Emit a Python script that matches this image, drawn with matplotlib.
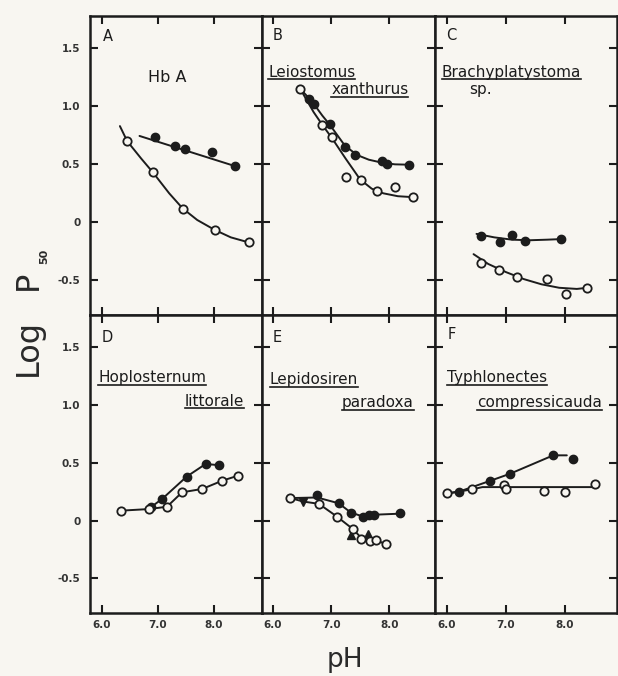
import matplotlib
matplotlib.use("Agg")
import matplotlib.pyplot as plt
from matplotlib.lines import Line2D

# ---------------- data (pH, log P50) ----------------
# Panel A  (Hb A)
a_open_ph = [6.45, 6.91, 7.44, 8.01, 8.63]
a_open_lp = [0.70, 0.435, 0.116, -0.067, -0.174]
a_fill_ph = [6.94, 7.30, 7.48, 7.97, 8.38]
a_fill_lp = [0.733, 0.658, 0.632, 0.609, 0.484]
a_open_curve_ph = [6.32, 6.45, 6.70, 6.91, 7.20, 7.44, 7.70, 8.01, 8.30, 8.63]
a_open_curve_lp = [0.83, 0.70, 0.55, 0.43, 0.25, 0.12, 0.02, -0.065, -0.13, -0.175]
a_fill_curve_ph = [6.67, 8.38]
a_fill_curve_lp = [0.745, 0.484]

# Panel B  (Leiostomus xanthurus)
b_open_ph = [6.47, 6.85, 7.01, 7.26, 7.51, 7.79, 8.10, 8.41]
b_open_lp = [1.15, 0.838, 0.734, 0.387, 0.361, 0.266, 0.306, 0.217]
b_fill_ph = [6.62, 6.70, 6.98, 7.24, 7.42, 7.87, 7.97, 8.34]
b_fill_lp = [1.06, 1.02, 0.844, 0.653, 0.578, 0.526, 0.503, 0.497]
b_open_curve_ph = [6.47, 6.70, 6.85, 7.01, 7.25, 7.50, 7.70, 7.90, 8.15, 8.41]
b_open_curve_lp = [1.15, 0.95, 0.84, 0.73, 0.55, 0.37, 0.29, 0.25, 0.225, 0.217]
b_fill_curve_ph = [6.47, 6.66, 6.85, 6.98, 7.24, 7.45, 7.65, 7.87, 8.10, 8.34]
b_fill_curve_lp = [1.15, 1.05, 0.92, 0.84, 0.66, 0.58, 0.54, 0.515, 0.50, 0.497]

# Panel C  (Brachyplatystoma sp.)
c_open_ph = [6.58, 6.88, 7.19, 7.70, 8.01, 8.38]
c_open_lp = [-0.348, -0.414, -0.470, -0.493, -0.617, -0.565]
c_fill_ph = [6.58, 6.89, 7.10, 7.32, 7.93]
c_fill_lp = [-0.116, -0.168, -0.110, -0.162, -0.145]
c_open_curve_ph = [6.45, 6.70, 7.00, 7.30, 7.60, 7.90, 8.20, 8.38]
c_open_curve_lp = [-0.275, -0.36, -0.43, -0.49, -0.535, -0.565, -0.575, -0.565]
c_fill_curve_ph = [6.50, 6.80, 7.10, 7.40, 7.70, 7.93]
c_fill_curve_lp = [-0.10, -0.13, -0.15, -0.155, -0.15, -0.145]

# Panel D  (Hoplosternum littorale)
d_open_ph = [6.34, 6.84, 7.16, 7.43, 7.79, 8.15, 8.43]
d_open_lp = [0.086, 0.10, 0.12, 0.245, 0.274, 0.346, 0.389]
d_fill_ph = [6.87, 7.08, 7.51, 7.85, 8.09]
d_fill_lp = [0.115, 0.19, 0.38, 0.49, 0.48]
d_open_curve_ph = d_open_ph
d_open_curve_lp = d_open_lp
d_fill_curve_ph = d_fill_ph
d_fill_curve_lp = d_fill_lp

# Panel E  (Lepidosiren paradoxa)
e_open_ph = [6.30, 6.79, 7.10, 7.38, 7.52, 7.67, 7.78, 7.94]
e_open_lp = [0.195, 0.145, 0.035, -0.075, -0.16, -0.18, -0.17, -0.20]
e_fill_ph = [6.76, 7.13, 7.34, 7.55, 7.66, 7.74, 8.19]
e_fill_lp = [0.22, 0.15, 0.065, 0.03, 0.05, 0.05, 0.065]
e_tri_down_ph = [6.52]
e_tri_down_lp = [0.157]
e_tri_up_ph = [7.35, 7.64]
e_tri_up_lp = [-0.125, -0.12]
e_open_curve_ph = [6.30, 6.52, 6.79, 7.10, 7.38, 7.52, 7.67, 7.78, 7.94]
e_open_curve_lp = [0.195, 0.165, 0.145, 0.035, -0.075, -0.15, -0.175, -0.175, -0.20]
e_fill_curve_ph = [6.30, 6.76, 7.13, 7.34, 7.55, 7.70, 8.19]
e_fill_curve_lp = [0.195, 0.20, 0.15, 0.07, 0.035, 0.05, 0.06]

# Panel F  (Typhlonectes compressicauda)
f_open_ph = [6.00, 6.42, 6.97, 7.00, 7.64, 8.00, 8.50]
f_open_lp = [0.235, 0.27, 0.31, 0.27, 0.26, 0.247, 0.32]
f_fill_ph = [6.20, 6.73, 7.07, 7.80, 8.13]
f_fill_lp = [0.25, 0.344, 0.406, 0.565, 0.53]
f_open_curve_ph = [6.00, 6.42, 6.60, 8.52]
f_open_curve_lp = [0.235, 0.27, 0.29, 0.29]
f_fill_curve_ph = [6.00, 6.20, 6.73, 7.07, 7.80, 8.03]
f_fill_curve_lp = [0.235, 0.25, 0.344, 0.406, 0.565, 0.565]

panel_letters = ["A", "B", "C", "D", "E", "F"]
y_ticks = [-0.5, 0, 0.5, 1.0, 1.5]
y_tick_labels = ["-0.5", "0", "0.5", "1.0", "1.5"]
x_ticks = [6.0, 7.0, 8.0]
x_tick_labels = ["6.0", "7.0", "8.0"]

# ---------------- style ----------------
BG = "#f8f6f1"
INK = "#1c1c1c"
W, H = 618, 676

fig = plt.figure(figsize=(W / 100, H / 100), dpi=100, facecolor=BG)
plt.rcParams["font.family"] = ["DejaVu Sans"]

cols = [(90, 262), (262, 435), (435, 617)]
rows = [(16, 315), (315, 613)]
xlims = [(5.786, 8.857), (5.81, 8.79), (5.797, 8.88)]
ylim = (-0.80, 1.78)


def rect(c, r):
    l, rr = cols[c]
    t, b = rows[r]
    return [l / W, 1 - b / H, (rr - l) / W, (b - t) / H]


panels = [
    dict(open=(a_open_ph, a_open_lp), fill=(a_fill_ph, a_fill_lp),
         oc=(a_open_curve_ph, a_open_curve_lp), fc=(a_fill_curve_ph, a_fill_curve_lp)),
    dict(open=(b_open_ph, b_open_lp), fill=(b_fill_ph, b_fill_lp),
         oc=(b_open_curve_ph, b_open_curve_lp), fc=(b_fill_curve_ph, b_fill_curve_lp)),
    dict(open=(c_open_ph, c_open_lp), fill=(c_fill_ph, c_fill_lp),
         oc=(c_open_curve_ph, c_open_curve_lp), fc=(c_fill_curve_ph, c_fill_curve_lp)),
    dict(open=(d_open_ph, d_open_lp), fill=(d_fill_ph, d_fill_lp),
         oc=(d_open_curve_ph, d_open_curve_lp), fc=(d_fill_curve_ph, d_fill_curve_lp)),
    dict(open=(e_open_ph, e_open_lp), fill=(e_fill_ph, e_fill_lp),
         oc=(e_open_curve_ph, e_open_curve_lp), fc=(e_fill_curve_ph, e_fill_curve_lp)),
    dict(open=(f_open_ph, f_open_lp), fill=(f_fill_ph, f_fill_lp),
         oc=(f_open_curve_ph, f_open_curve_lp), fc=(f_fill_curve_ph, f_fill_curve_lp)),
]

# species labels: (text, x_frac, baseline y_frac, ha, underline)
labels = [
    [("Hb A", 0.448, 0.779, "center", False)],
    [("Leiostomus", 0.035, 0.796, "left", True), ("xanthurus", 0.40, 0.739, "left", True)],
    [("Brachyplatystoma", 0.038, 0.796, "left", True), ("sp.", 0.19, 0.739, "left", False)],
    [("Hoplosternum", 0.047, 0.775, "left", True), ("littorale", 0.552, 0.695, "left", True)],
    [("Lepidosiren", 0.046, 0.768, "left", True), ("paradoxa", 0.462, 0.691, "left", True)],
    [("Typhlonectes", 0.066, 0.775, "left", True), ("compressicauda", 0.231, 0.691, "left", True)],
]
letter_pos = [(0.105, 0.93), (0.09, 0.936), (0.09, 0.936),
              (0.10, 0.926), (0.087, 0.926), (0.093, 0.933)]

underline_texts = []
axes = []
for i, p in enumerate(panels):
    r, c = divmod(i, 3)
    ax = fig.add_axes(rect(c, r))
    axes.append(ax)
    ax.set_facecolor(BG)
    ax.set_xlim(*xlims[c])
    ax.set_ylim(*ylim)
    for s in ax.spines.values():
        s.set_linewidth(1.8)
        s.set_color(INK)
    ax.set_xticks(x_ticks)
    ax.set_yticks(y_ticks)
    ax.tick_params(direction="in", length=6, width=1.5, color=INK,
                   top=True, right=True, bottom=True, left=True)
    if c == 0:
        ax.set_yticklabels(y_tick_labels, fontsize=7.5, fontweight="bold", color="#333333")
        ax.tick_params(axis="y", pad=7)
    else:
        ax.set_yticklabels([])
    if r == 1:
        ax.set_xticklabels(x_tick_labels, fontsize=7.5, fontweight="bold", color="#333333")
        ax.tick_params(axis="x", pad=5)
    else:
        ax.set_xticklabels([])

    ax.plot(*p["oc"], color=INK, lw=1.4, zorder=2, solid_capstyle="round")
    ax.plot(*p["fc"], color=INK, lw=1.4, zorder=2, solid_capstyle="round")
    ax.plot(*p["fill"], ls="none", marker="o", ms=6, mfc=INK, mec=INK, zorder=3)
    ax.plot(*p["open"], ls="none", marker="o", ms=6, mfc=BG, mec=INK, mew=1.3, zorder=4)
    if i == 4:
        ax.plot(e_tri_down_ph, e_tri_down_lp, ls="none", marker="v", ms=6, mfc=INK, mec=INK, zorder=3)
        ax.plot(e_tri_up_ph, e_tri_up_lp, ls="none", marker="^", ms=6, mfc=INK, mec=INK, zorder=3)

    lx, ly = letter_pos[i]
    ax.text(lx, ly, panel_letters[i], transform=ax.transAxes, fontsize=10.5,
            ha="center", va="center", color=INK)
    for (txt, x, y, ha, ul) in labels[i]:
        t = ax.text(x, y, txt, transform=ax.transAxes, fontsize=11 if ul or txt == "sp." else 11.5,
                    ha=ha, va="baseline", color=INK)
        if ul:
            underline_texts.append((t, ax))

# axis titles
fig.text(37 / W, 1 - 347 / H, "Log", rotation=90, rotation_mode="anchor",
         ha="center", va="baseline", fontsize=23, color="#2a2a2a")
fig.text(37 / W, 1 - 280 / H, "P", rotation=90, rotation_mode="anchor",
         ha="center", va="baseline", fontsize=23, color="#2a2a2a")
fig.text(47 / W, 1 - 256 / H, "50", rotation=90, rotation_mode="anchor",
         ha="center", va="baseline", fontsize=8, fontweight="bold", color="#2a2a2a")
fig.text(345 / W, 9 / H, "pH", ha="center", va="baseline", fontsize=19, color="#2a2a2a")

# underlines under species names
fig.canvas.draw()
renderer = fig.canvas.get_renderer()
for t, ax in underline_texts:
    bb = t.get_window_extent(renderer)
    base = ax.transAxes.transform(t.get_position())[1]
    y = base - 2.5
    fig.add_artist(Line2D([bb.x0 / W, bb.x1 / W], [y / H, y / H],
                          transform=fig.transFigure, color=INK, lw=1.2))

fig.savefig("out.png", dpi=100, facecolor=BG)
